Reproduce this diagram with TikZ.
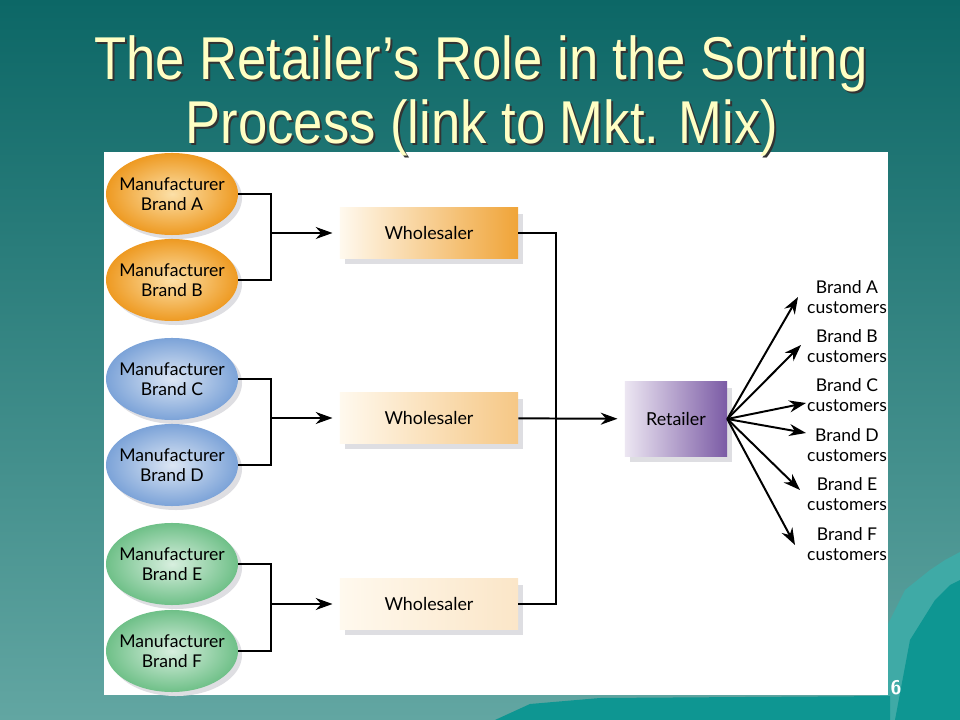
\documentclass[tikz,border=0pt]{standalone}
\usepackage{fontspec}
\setmainfont{Lato}
\newfontfamily\titlefont[FakeStretch=0.87]{Liberation Sans}
\usetikzlibrary{arrows.meta,shadows,shapes.geometric}
\definecolor{fondoA}{HTML}{0C6766}
\definecolor{fondoB}{HTML}{62A6A2}
\definecolor{hielo}{HTML}{0E9692}
\definecolor{hieloclaro}{HTML}{3FAAA6}
\definecolor{titulo}{HTML}{FFFFC4}
\definecolor{naranja}{HTML}{EE9A22}
\definecolor{naranjaclaro}{HTML}{FCE0A8}
\definecolor{azul}{HTML}{7CA3D8}
\definecolor{azulclaro}{HTML}{DCE6F4}
\definecolor{verde}{HTML}{6FC088}
\definecolor{verdeclaro}{HTML}{D8EFDF}
\definecolor{morado}{HTML}{7B5BA5}
\definecolor{moradoclaro}{HTML}{ECE6F2}
\definecolor{crema}{HTML}{FFF9EE}
\definecolor{sombra}{HTML}{DEDEE2}
\begin{document}
\begin{tikzpicture}[x=0.025cm,y=-0.025cm]
\tikzstyle{fabricante}=[ellipse,minimum width=3.3cm,minimum height=2.05cm,inner xsep=-0.17cm,inner ysep=0pt,align=center,font=\fontsize{12.5}{14.5}\selectfont,
  drop shadow={fill=sombra,opacity=1,shadow xshift=0.1cm,shadow yshift=-0.1cm}]% cada marca
\tikzstyle{caja}=[rectangle,minimum width=4.45cm,minimum height=1.25cm,font=\fontsize{12.7}{15}\selectfont,
  drop shadow={fill=sombra,opacity=1,shadow xshift=0.12cm,shadow yshift=-0.15cm}]% mayoristas y minorista
\tikzstyle{cliente}=[align=center,inner sep=0pt,font=\fontsize{12.5}{14}\selectfont]
\tikzstyle{linea}=[black,line width=1.4pt]
\tikzstyle{flecha}=[black,line width=1.4pt,-{Stealth[length=0.42cm,width=0.3cm]}]
\useasboundingbox (0,0) rectangle (960,720);
\shade[top color=fondoA,bottom color=fondoB] (0,0) rectangle (960,720);% fondo
\fill[hieloclaro] (880,640) -- (905,590) -- (930,570) -- (945,560) -- (960,552) -- (960,720) -- (880,720) -- cycle;
\fill[hielo] (895,720) -- (910,640) -- (935,600) -- (950,585) -- (960,580) -- (960,720) -- cycle;
\fill[hielo] (495,720) -- (530,704) -- (600,698) -- (890,696) -- (890,720) -- cycle;
\fill[white] (104,152) rectangle (888,695);% panel
\node[text=white,font=\sffamily\bfseries\fontsize{14}{16}\selectfont] (num) at (896,688) {6};
% titulo
\node[anchor=base,text=black!80,font=\titlefont\fontsize{43}{47}\selectfont] (t1s) at (483,82) {The Retailer’s Role in the Sorting};
\node[anchor=base,text=titulo,font=\titlefont\fontsize{43}{47}\selectfont] (t1) at (481,80) {The Retailer’s Role in the Sorting};
\node[anchor=base,text=black!80,font=\titlefont\fontsize{43}{47}\selectfont] (t2s) at (484,146) {Process (link to Mkt. Mix)};
\node[anchor=base,text=titulo,font=\titlefont\fontsize{43}{47}\selectfont] (t2) at (482,144) {Process (link to Mkt. Mix)};
% fabricantes
\foreach \m/\y/\c in {A/194/naranja,B/280/naranja,C/379/azul,D/465/azul,E/564/verde,F/651/verde}
  \node[fabricante,inner color=\c claro,outer color=\c] (\m) at (172,\y) {Manufacturer\\Brand \m};
% mayoristas
\node[caja,left color=crema,right color=naranja!90] (W1) at (429,233) {Wholesaler};
\node[caja,left color=crema,right color=naranja!55] (W2) at (429,418) {Wholesaler};
\node[caja,left color=crema,right color=naranja!25] (W3) at (429,604) {Wholesaler};
\node[caja,minimum width=2.55cm,minimum height=1.85cm,left color=moradoclaro,right color=morado] (R) at (676,419) {Retailer};
\coordinate (j1) at (271,233);
\coordinate (j2) at (271,418);
\coordinate (j3) at (271,604);
\coordinate (k) at (556,418);
\draw[linea] (A.east) -| (j1) |- (B.east);
\draw[linea] (C.east) -| (j2) |- (D.east);
\draw[linea] (E.east) -| (j3) |- (F.east);
\draw[flecha,shorten >=0.18cm] (j1) -- (W1);
\draw[flecha,shorten >=0.18cm] (j2) -- (W2);
\draw[flecha,shorten >=0.18cm] (j3) -- (W3);
\draw[linea] (W1.east) -| (k) |- (W3.east);
\draw[flecha,shorten >=0.18cm] (W2) -- (R);
% clientes
\foreach \m/\y/\tx/\ty in {A/297/798/297,B/346/801/345,C/395/806/403,D/445/806/433,E/494/800/490,F/544/795/545}{
  \node[cliente] (c\m) at (847,\y) {Brand \m\\customers};
  \coordinate (p\m) at (\tx,\ty);
  \draw[flecha] (R.east) -- (p\m);
}
\end{tikzpicture}
\end{document}
